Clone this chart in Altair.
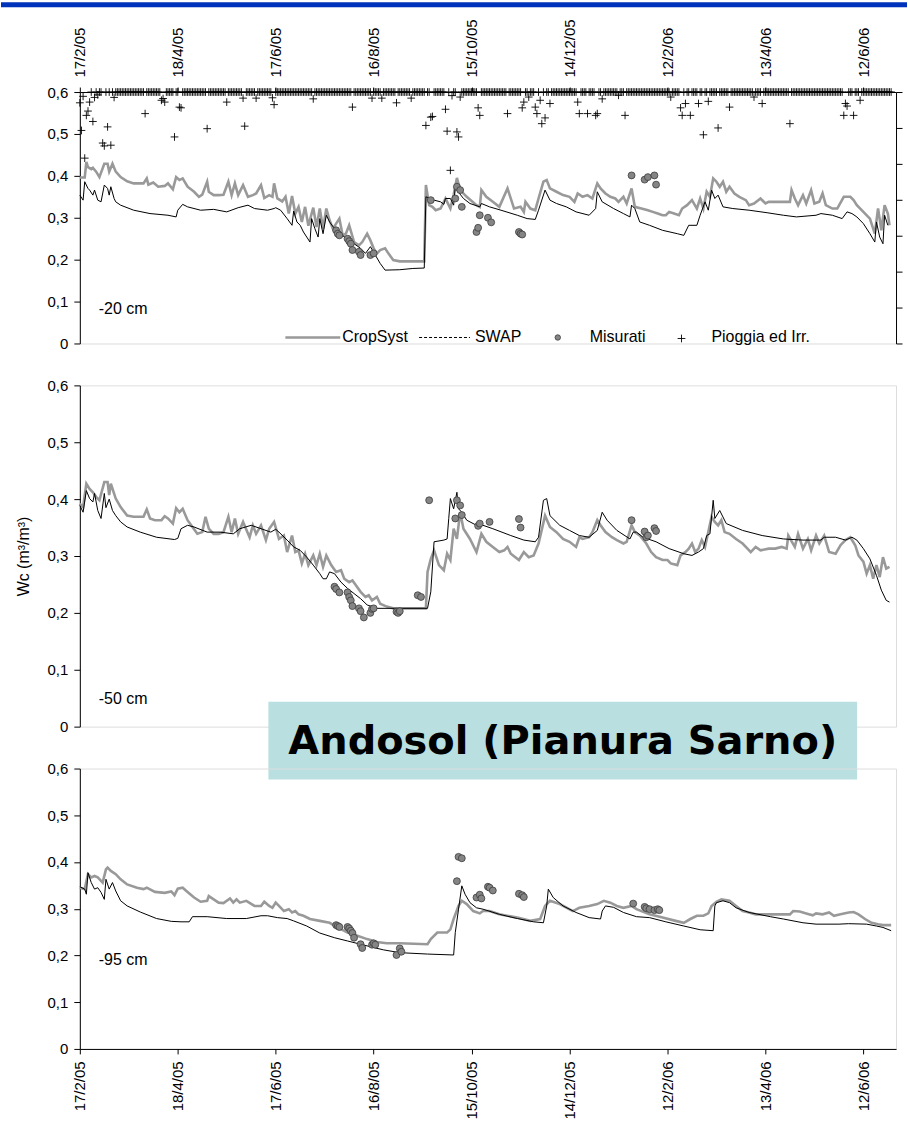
import altair as alt
import pandas as pd

FONT = "Liberation Sans"
GREY = "#999999"
START = pd.Timestamp("2005-02-17")          # day 0 of the monitoring period

X_DOMAIN = [(2005, 2, 17), (2006, 7, 2)]
TICK_DATES = [(2005, 2, 17), (2005, 4, 18), (2005, 6, 17), (2005, 8, 16), (2005, 10, 15),
              (2005, 12, 14), (2006, 2, 12), (2006, 4, 13), (2006, 6, 12)]
WC_TICKS = [0, 0.1, 0.2, 0.3, 0.4, 0.5, 0.6]
RAIN_TICKS = [0, 10, 20, 30, 40, 50, 60, 70]
LEGEND_LABELS = ["CropSyst", "SWAP", "Misurati", "Pioggia ed Irr."]
DEPTHS = ["-20 cm", "-50 cm", "-95 cm"]
SITE = "Andosol (Pianura Sarno)"
Y_TITLE = "Wc (m³/m³)"

# (day since 17/2/05, water content m3/m3)
crop20 = [(0, .396), (3, .396), (4, .433), (5, .421), (7, .416), (8, .419), (10, .41), (12, .397),
          (15, .429), (17, .429), (18, .41), (20, .429), (22, .41), (25, .397), (29, .387), (33, .382),
          (39, .382), (41, .394), (42, .379), (45, .384), (48, .374), (52, .376), (54, .382), (57, .368),
          (59, .397), (61, .39), (63, .394), (66, .374), (70, .362), (73, .35), (75, .355), (78, .386),
          (79, .362), (82, .354), (85, .354), (88, .355), (91, .386), (93, .354), (95, .382), (97, .354),
          (100, .378), (103, .35), (106, .354), (108, .358), (111, .378), (113, .347), (116, .354),
          (118, .35), (119, .382), (121, .346), (124, .339), (126, .35), (128, .31), (130, .352),
          (132, .31), (134, .326), (136, .29), (138, .326), (140, .281), (143, .324), (145, .278),
          (147, .322), (149, .274), (151, .322), (153, .294), (155, .274), (157, .286), (159, .298),
          (161, .258), (163, .262), (165, .282), (168, .242), (171, .234), (173, .242), (176, .262),
          (178, .246), (180, .227), (182, .215), (184, .223), (187, .227), (189, .215), (192, .199),
          (196, .196), (211, .196), (212, .378), (214, .33), (216, .326), (218, .318), (221, .322),
          (224, .346), (227, .322), (229, .355), (231, .395), (233, .366), (237, .35), (243, .33),
          (245, .326), (246, .366), (249, .35), (253, .338), (257, .326), (262, .37), (266, .322),
          (270, .326), (272, .314), (273, .338), (276, .322), (279, .318), (281, .346), (284, .386),
          (286, .39), (288, .37), (292, .362), (296, .354), (300, .35), (303, .338), (305, .358),
          (308, .35), (311, .354), (314, .346), (317, .382), (319, .37), (322, .358), (325, .35),
          (328, .346), (330, .338), (333, .35), (335, .334), (338, .37), (340, .326), (344, .322),
          (348, .318), (351, .314), (354, .31), (357, .306), (359, .306), (361, .314), (364, .31),
          (367, .306), (369, .322), (372, .33), (375, .342), (378, .322), (380, .346), (382, .322),
          (384, .362), (386, .35), (388, .394), (390, .386), (392, .374), (394, .386), (396, .362),
          (398, .374), (401, .358), (404, .35), (408, .342), (410, .33), (413, .334), (417, .346),
          (420, .334), (422, .338), (426, .338), (431, .338), (435, .338), (436, .366), (438, .346),
          (440, .33), (443, .354), (445, .334), (448, .366), (450, .334), (453, .338), (455, .358),
          (457, .33), (461, .322), (464, .322), (468, .35), (472, .35), (474, .342), (476, .33),
          (480, .314), (484, .298), (487, .262), (489, .322), (491, .27), (493, .33), (495, .31),
          (496, .282)]

swap20 = [(0, .354), (2, .342), (3, .386), (5, .37), (6, .366), (8, .354), (9, .366), (11, .342),
          (13, .338), (15, .378), (17, .37), (18, .354), (19, .374), (21, .346), (22, .338), (25, .33),
          (33, .318), (43, .31), (54, .306), (59, .302), (60, .318), (63, .332), (66, .326), (74, .318),
          (82, .32), (90, .314), (97, .324), (103, .33), (107, .322), (115, .318), (119, .322),
          (120, .324), (123, .318), (127, .298), (130, .282), (131, .316), (133, .29), (135, .282),
          (137, .266), (139, .254), (141, .242), (142, .298), (144, .274), (146, .254), (147, .298),
          (149, .262), (151, .306), (153, .29), (156, .274), (159, .262), (164, .25), (168, .238),
          (172, .227), (175, .215), (178, .231), (181, .211), (184, .191), (187, .175), (196, .176),
          (204, .179), (211, .18), (212, .35), (215, .346), (217, .342), (221, .338), (223, .332),
          (224, .346), (227, .346), (229, .33), (230, .374), (231, .366), (235, .346), (239, .334),
          (245, .326), (246, .334), (251, .326), (258, .318), (268, .306), (274, .298), (279, .296),
          (281, .318), (285, .366), (288, .342), (292, .334), (298, .326), (304, .314), (312, .306),
          (316, .322), (317, .362), (320, .338), (327, .322), (333, .31), (337, .302), (338, .33),
          (340, .322), (343, .29), (349, .282), (357, .27), (366, .262), (370, .258), (373, .282),
          (378, .282), (380, .306), (383, .338), (385, .318), (387, .366), (389, .346), (391, .354),
          (394, .326), (400, .322), (410, .318), (421, .312), (431, .306), (439, .302), (451, .306),
          (454, .31), (461, .306), (467, .298), (470, .314), (473, .31), (476, .302), (480, .286),
          (484, .262), (487, .242), (488, .29), (490, .254), (492, .238), (493, .306), (495, .282)]

mis20 = [(157, .27), (158, .262), (159, .258), (164, .25), (165, .244), (166, .238), (167, .223),
         (171, .219), (172, .211), (178, .211), (180, .215), (215, .342), (230, .346), (231, .374),
         (233, .366), (234, .326), (243, .266), (244, .276), (245, .306), (250, .3), (252, .289),
         (269, .266), (270, .262), (271, .26), (338, .401), (346, .391), (348, .397), (352, .401),
         (353, .379)]

# (day since 17/2/05, rain + irrigation mm)
rain = [(0, 3.0), (1, 10.7), (2, 1.2), (3, 18.4), (4, 6.5), (5, 5.3), (6, 2.8), (8, 8.2), (9, 1.5),
        (11, 0.8), (14, 14.2), (15, 15.0), (17, 9.7), (19, 14.8), (21, 1.5), (40, 6.0), (50, 2.3),
        (51, 1.8), (52, 2.8), (58, 12.5), (61, 4.2), (62, 4.4), (78, 10.2), (90, 2.8), (100, 1.7),
        (101, 9.5), (108, 1.7), (118, 1.6), (119, 3.5), (143, 1.9), (167, 4.2), (179, 1.7),
        (185, 1.7), (194, 3.0), (203, 1.7), (212, 9.3), (215, 7.0), (216, 6.8), (224, 4.8),
        (225, 10.9), (227, 21.8), (228, 1.0), (231, 11.1), (232, 12.5), (233, 1.4), (244, 4.4),
        (245, 6.5), (262, 6.0), (271, 4.4), (272, 2.8), (275, 1.4), (279, 4.2), (280, 6.0),
        (282, 2.3), (283, 8.8), (285, 7.2), (288, 3.2), (305, 2.8), (306, 6.0), (311, 6.0),
        (316, 6.5), (317, 6.0), (320, 1.9), (330, 0.9), (334, 6.5), (362, 1.4), (368, 4.4),
        (369, 6.5), (371, 3.2), (374, 6.5), (379, 3.2), (382, 11.9), (385, 2.6), (391, 10.0),
        (398, 4.2), (413, 1.4), (418, 3.2), (435, 8.8), (468, 6.5), (469, 3.2), (470, 3.9),
        (474, 6.5), (478, 2.3)]
LAST_DAY = 497

crop50 = [(0, .392), (2, .386), (4, .427), (6, .418), (8, .412), (10, .404), (12, .398), (15, .43),
          (17, .43), (18, .407), (19, .427), (22, .401), (25, .386), (29, .371), (33, .369), (39, .369),
          (41, .382), (43, .366), (46, .363), (50, .363), (52, .37), (54, .366), (57, .357), (59, .384),
          (61, .377), (63, .383), (66, .363), (69, .351), (72, .339), (75, .342), (77, .369), (79, .348),
          (82, .339), (85, .339), (88, .342), (91, .369), (93, .342), (95, .366), (97, .339), (100, .36),
          (104, .333), (106, .354), (108, .339), (111, .354), (114, .328), (116, .348), (119, .36),
          (122, .33), (125, .336), (127, .307), (130, .336), (132, .307), (134, .31), (136, .287),
          (138, .304), (140, .284), (143, .301), (145, .284), (147, .304), (149, .281), (151, .301),
          (154, .284), (157, .272), (160, .275), (162, .26), (165, .254), (167, .257), (169, .249),
          (172, .237), (175, .228), (177, .231), (179, .222), (182, .228), (184, .216), (188, .211),
          (192, .208), (212, .208), (213, .272), (215, .295), (217, .31), (220, .284), (223, .275),
          (225, .304), (227, .293), (229, .348), (231, .33), (233, .377), (235, .348), (239, .33),
          (243, .307), (246, .339), (249, .325), (253, .316), (257, .307), (260, .31), (262, .316),
          (264, .304), (269, .293), (272, .307), (275, .298), (278, .301), (281, .322), (285, .371),
          (288, .351), (292, .342), (296, .33), (300, .325), (304, .316), (306, .333), (308, .33),
          (312, .333), (314, .342), (317, .363), (319, .354), (322, .342), (326, .333), (329, .328),
          (333, .322), (335, .325), (338, .354), (340, .342), (343, .336), (347, .322), (350, .307),
          (353, .298), (357, .293), (360, .293), (362, .287), (366, .284), (368, .301), (371, .307),
          (373, .313), (375, .322), (377, .307), (379, .313), (381, .328), (383, .316), (387, .369),
          (389, .36), (391, .354), (393, .363), (395, .342), (398, .339), (402, .33), (406, .322),
          (409, .313), (411, .307), (414, .316), (417, .31), (422, .313), (426, .313), (430, .316),
          (433, .313), (434, .336), (438, .316), (440, .339), (443, .313), (446, .33), (448, .31),
          (451, .336), (453, .322), (456, .336), (459, .307), (463, .304), (466, .319), (469, .328),
          (472, .333), (475, .319), (477, .301), (480, .29), (482, .269), (484, .284), (486, .26),
          (488, .284), (490, .263), (492, .298), (494, .278), (496, .281)]

swap50 = [(0, .389), (2, .377), (4, .415), (6, .401), (8, .395), (9, .41), (11, .38), (13, .366),
          (15, .41), (16, .385), (18, .4), (20, .38), (22, .371), (25, .36), (29, .351), (37, .342),
          (47, .333), (58, .329), (60, .331), (62, .348), (66, .354), (70, .351), (78, .342), (86, .342),
          (94, .339), (98, .348), (105, .354), (111, .348), (117, .342), (120, .347), (122, .342),
          (127, .328), (131, .316), (135, .31), (139, .298), (143, .284), (147, .269), (149, .26),
          (151, .26), (153, .272), (156, .269), (160, .254), (164, .243), (168, .234), (172, .225),
          (176, .214), (182, .208), (196, .208), (213, .208), (215, .237), (217, .325), (223, .328),
          (225, .33), (226, .366), (227, .401), (229, .383), (231, .412), (232, .383), (234, .377),
          (237, .363), (243, .354), (247, .354), (253, .348), (264, .336), (272, .328), (279, .325),
          (281, .333), (284, .398), (286, .401), (288, .371), (294, .354), (300, .345), (306, .336),
          (312, .333), (317, .345), (320, .377), (323, .363), (329, .345), (337, .33), (339, .342),
          (341, .342), (345, .333), (353, .325), (361, .313), (370, .304), (375, .301), (379, .307),
          (382, .313), (384, .336), (386, .339), (388, .398), (389, .366), (392, .38), (396, .357),
          (406, .345), (418, .336), (431, .33), (443, .328), (454, .328), (456, .333), (463, .333),
          (469, .328), (473, .333), (476, .328), (480, .313), (484, .295), (488, .266), (491, .24),
          (494, .222), (496, .219)]

mis50 = [(156, .246), (157, .242), (159, .236), (164, .236), (165, .228), (166, .222), (167, .212),
         (171, .208), (172, .203), (174, .192), (178, .2), (179, .207), (180, .208), (194, .202),
         (195, .2), (196, .203), (207, .231), (209, .228), (214, .398), (230, .366), (231, .398),
         (233, .389), (234, .372), (244, .353), (245, .357), (251, .36), (269, .365), (270, .35),
         (338, .363), (346, .343), (347, .333), (348, .336), (352, .349), (353, .344)]

crop95 = [(0, .345), (3, .342), (5, .374), (7, .367), (9, .37), (11, .367), (14, .356), (16, .384),
          (17, .388), (19, .381), (22, .374), (25, .363), (29, .352), (35, .345), (39, .342), (41, .345),
          (46, .336), (52, .334), (56, .337), (58, .329), (60, .343), (63, .345), (66, .336), (70, .324),
          (74, .315), (78, .317), (79, .327), (82, .32), (85, .313), (88, .312), (92, .322), (94, .313),
          (96, .32), (98, .313), (102, .317), (107, .306), (111, .306), (113, .315), (116, .306),
          (118, .302), (120, .313), (122, .306), (125, .295), (128, .299), (130, .292), (132, .295),
          (134, .288), (137, .285), (141, .278), (147, .274), (153, .27), (158, .26), (164, .249),
          (170, .242), (176, .235), (182, .229), (188, .226), (196, .226), (213, .224), (215, .235),
          (219, .249), (225, .249), (227, .256), (229, .278), (232, .306), (234, .317), (237, .31),
          (241, .295), (245, .29), (247, .295), (251, .295), (257, .288), (268, .281), (276, .274),
          (282, .278), (285, .306), (288, .317), (294, .31), (302, .295), (306, .302), (312, .306),
          (317, .31), (321, .317), (325, .313), (329, .306), (333, .302), (338, .306), (341, .299),
          (349, .288), (357, .281), (365, .274), (370, .27), (374, .278), (378, .285), (382, .285),
          (385, .29), (387, .306), (390, .315), (393, .32), (398, .317), (402, .306), (406, .295),
          (410, .292), (414, .288), (423, .288), (431, .288), (435, .288), (437, .295), (441, .294),
          (445, .29), (449, .286), (451, .29), (455, .288), (459, .292), (462, .285), (466, .288),
          (471, .292), (474, .293), (477, .288), (481, .278), (485, .27), (489, .267), (492, .265),
          (497, .265)]

swap95 = [(0, .347), (3, .342), (4, .331), (5, .377), (7, .356), (9, .342), (11, .345), (13, .335),
          (15, .32), (16, .363), (18, .342), (20, .356), (22, .338), (25, .317), (29, .306), (37, .293),
          (47, .279), (56, .273), (62, .272), (67, .272), (69, .283), (78, .283), (90, .279), (102, .279),
          (111, .285), (115, .285), (121, .281), (127, .279), (131, .274), (139, .263), (147, .248),
          (156, .238), (164, .231), (172, .224), (180, .217), (186, .212), (196, .206), (213, .203),
          (229, .201), (230, .249), (232, .299), (234, .349), (236, .331), (239, .313), (243, .302),
          (247, .299), (257, .288), (268, .279), (278, .272), (284, .27), (286, .306), (287, .342),
          (290, .324), (296, .306), (304, .292), (312, .281), (319, .278), (320, .295), (322, .306),
          (327, .303), (333, .292), (341, .283), (349, .281), (359, .272), (370, .263), (380, .255),
          (388, .253), (389, .306), (390, .313), (394, .317), (398, .313), (402, .302), (410, .292),
          (423, .283), (431, .278), (443, .27), (451, .267), (465, .267), (471, .268), (482, .267),
          (488, .263), (492, .26), (497, .253)]

mis95 = [(157, .265), (158, .263), (159, .261), (164, .261), (165, .258), (166, .253), (167, .248),
         (168, .238), (172, .224), (173, .216), (179, .223), (180, .226), (181, .223), (194, .201),
         (196, .215), (197, .208), (231, .359), (232, .411), (234, .408), (243, .324), (245, .33),
         (246, .322), (250, .347), (251, .345), (253, .339), (269, .332), (271, .329), (272, .325),
         (339, .311), (346, .304), (347, .301), (349, .299), (352, .297), (354, .299), (355, .297)]


def frame(points, col="wc"):
    return pd.DataFrame({
        "date": [(START + pd.Timedelta(days=d)).strftime("%Y-%m-%d") for d, _ in points],
        col: [v for _, v in points],
    })


def dt(ymd):
    y, m, d = ymd
    return alt.DateTime(year=y, month=m, date=d, utc=True)


def one(text):
    return pd.DataFrame({"label": [text]})


W = 818
H1, H2, H3 = 252, 342, 281
PLUS = "M-1,0L1,0M0,-1L0,1"
TICK_FS = 15

x_scale = alt.Scale(type="utc", domain=[dt(v) for v in X_DOMAIN])
wc_scale = alt.Scale(domain=[0, 0.6], nice=False, zero=False)
WC_LABEL = "datum.value == 0 ? '0' : replace(format(datum.value, '.1f'), '.', ',')"


def date_axis(orient, pad):
    return alt.Axis(orient=orient, values=[dt(v) for v in TICK_DATES],
                    labelExpr="utcFormat(datum.value, '%-d/%-m/%y')", labelAngle=-90,
                    labelFont=FONT, labelFontSize=TICK_FS, labelColor="black", labelPadding=pad,
                    labelFlush=False, labelOverlap=False, tickSize=5, tickColor="black",
                    domainColor="black", grid=False, title=None)


def wc_axis(title=None):
    kw = dict(values=WC_TICKS, labelExpr=WC_LABEL, labelFont=FONT, labelFontSize=TICK_FS,
              labelColor="black", labelPadding=6, tickSize=6, tickColor="black",
              domainColor="black", grid=False)
    if title:
        kw.update(title=title, titleFont=FONT, titleFontSize=16, titleFontWeight="normal",
                  titleColor="black", titlePadding=16)
    else:
        kw.update(title=None)
    return alt.Axis(**kw)


def depth_layers(crop, swap, mis, xax, yax):
    x = alt.X("date:T", scale=x_scale, axis=xax)
    y = alt.Y("wc:Q", scale=wc_scale, axis=yax)
    cs = alt.Chart(frame(crop)).mark_line(color=GREY, strokeWidth=2.6).encode(x=x, y=y)
    sw = alt.Chart(frame(swap)).mark_line(color="black", strokeWidth=1).encode(x=x, y=y)
    ms = alt.Chart(frame(mis)).mark_point(shape="circle", filled=True, color="#858585",
                                          stroke="#3c3c3c", strokeWidth=0.8, size=48,
                                          opacity=1).encode(x=x, y=y)
    return [cs, sw, ms]


def label(text, x, y, size=16, **kw):
    return alt.Chart(one(text)).mark_text(align="left", baseline="middle", font=FONT,
                                          fontSize=size, color="black", **kw).encode(
        x=alt.value(x), y=alt.value(y), text="label:N")


# ---- -20 cm (with rain / irrigation on the reversed right axis) ----
top_axis = date_axis("top", 10)
wet_days = {d for d, _ in rain}
rain_all = rain + [(d, 0.0) for d in range(0, LAST_DAY + 1) if d not in wet_days]
rain_all.sort()

rain_layer = alt.Chart(frame(rain_all, col="mm")).mark_point(
    shape=PLUS, filled=False, color="black", strokeWidth=0.9, size=60, opacity=1
).encode(
    x=alt.X("date:T", scale=x_scale, axis=top_axis),
    y=alt.Y("mm:Q", scale=alt.Scale(domain=[0, 70], reverse=True, nice=False, zero=False),
            axis=alt.Axis(orient="right", values=RAIN_TICKS, labels=False, tickSize=6,
                          tickColor="black", domainColor="black", grid=False, title=None)),
)

LY = 246
banner = alt.Chart(one("")).mark_rect(color="#0033bb").encode(
    x=alt.value(-79), x2=alt.value(829), y=alt.value(-90), y2=alt.value(-85))
leg_crop = alt.Chart(one(LEGEND_LABELS[0])).mark_rule(color=GREY, strokeWidth=2.6).encode(
    x=alt.value(206), x2=alt.value(261), y=alt.value(LY))
leg_swap = alt.Chart(one(LEGEND_LABELS[1])).mark_rule(color="black", strokeWidth=1,
                                                      strokeDash=[3, 2]).encode(
    x=alt.value(340), x2=alt.value(391), y=alt.value(LY))
leg_mis = alt.Chart(one(LEGEND_LABELS[2])).mark_point(
    shape="circle", filled=True, color="#858585", stroke="#3c3c3c", strokeWidth=0.8, size=30,
    opacity=1).encode(x=alt.value(479), y=alt.value(LY))
leg_rain = alt.Chart(one(LEGEND_LABELS[3])).mark_point(
    shape=PLUS, filled=False, color="black", strokeWidth=0.9, size=60, opacity=1).encode(
    x=alt.value(603), y=alt.value(LY + 1))

p1_inner = alt.layer(
    *depth_layers(crop20, swap20, mis20, top_axis, wc_axis()),
    banner, leg_crop, leg_swap, leg_mis, leg_rain,
    label(LEGEND_LABELS[0], 263, LY), label(LEGEND_LABELS[1], 396, LY),
    label(LEGEND_LABELS[2], 511, LY), label(LEGEND_LABELS[3], 633, LY),
    label(DEPTHS[0], 19, 217),
)
panel1 = alt.layer(p1_inner, rain_layer).resolve_scale(y="independent").properties(
    width=W, height=H1)

# ---- -50 cm ----
site_box = alt.Chart(one(SITE)).mark_rect(color="#b9dfe1").encode(
    x=alt.value(189), x2=alt.value(779), y=alt.value(317), y2=alt.value(395))
site_text = alt.Chart(one(SITE)).mark_text(
    align="center", baseline="middle", font="DejaVu Sans", fontWeight="bold", fontSize=40,
    color="black").encode(x=alt.value(484), y=alt.value(357), text="label:N")

panel2 = alt.layer(
    *depth_layers(crop50, swap50, mis50, None, wc_axis(Y_TITLE)),
    label(DEPTHS[1], 19, 314), site_box, site_text,
).properties(width=W, height=H2)

# ---- -95 cm ----
panel3 = alt.layer(
    *depth_layers(crop95, swap95, mis95, date_axis("bottom", 7), wc_axis()),
    label(DEPTHS[2], 19, 192),
).properties(width=W, height=H3)

chart = alt.vconcat(panel1, panel2, panel3, spacing=42, bounds="flush").properties(
    padding={"left": 0, "top": 0, "right": 0, "bottom": 0}
).configure_view(stroke=None).configure(background="white")

chart.save("out.html", embed_options={"renderer": "svg", "actions": False})
